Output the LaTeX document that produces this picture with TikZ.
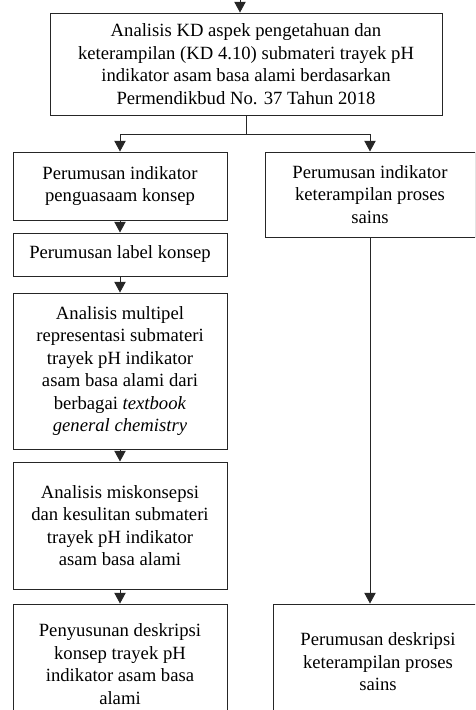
\documentclass[tikz,border=0pt]{standalone}
\usepackage{fontspec}
\setmainfont{Liberation Serif}
\usepackage{tikz}
\usetikzlibrary{arrows.meta, positioning, calc}
\definecolor{linec}{HTML}{262626}

\begin{document}
\begin{tikzpicture}[x=0.75pt, y=-0.75pt,
          >={Triangle[width=8.5pt, length=8pt]}, line width=0.7pt,
          box/.style={draw=linec, fill=white, inner sep=0pt, align=center,
            font=\fontsize{14}{16.9}\selectfont},
          conn/.style={->, draw=linec}]
        \clip (0,0) rectangle (475,710);
        % top box
        \node[box, minimum width=294pt, minimum height=76.5pt] (kd) at (246,64)
          {Analisis KD aspek pengetahuan dan\\
           keterampilan (KD 4.10) submateri trayek pH\\
           indikator asam basa alami berdasarkan\\
           Permendikbud No. 37 Tahun 2018};
        \coordinate (in) at (240,0);
        \draw[conn] (in) -- (in |- kd.north);
        % left column
        \node[box, minimum width=160.5pt, minimum height=51pt] (indk) at (120,186)
          {Perumusan indikator\\ penguasaam konsep};
        \node[box, minimum width=160.5pt, minimum height=32.3pt] (label) at (120,254.5)
          {Perumusan label konsep};
        \node[box, minimum width=160.5pt, minimum height=117pt] (multi) at (120,371)
          {Analisis multipel\\ representasi submateri\\ trayek pH indikator\\
           asam basa alami dari\\ berbagai \textit{textbook}\\
           \textit{general chemistry}};
        \node[box, minimum width=160.5pt, minimum height=95.3pt] (mis) at (120,525.5)
          {Analisis miskonsepsi\\ dan kesulitan submateri\\ trayek pH indikator\\
           asam basa alami};
        \node[box, minimum width=160.5pt, minimum height=90pt] (desk) at (120,664)
          {Penyusunan deskripsi\\ konsep trayek pH\\ indikator asam basa\\ alami};
        % right column
        \node[box, minimum width=157.5pt, minimum height=63.8pt] (indkps) at (370,194.5)
          {Perumusan indikator\\ keterampilan proses\\ sains};
        \node[box, minimum width=157.5pt, minimum height=87pt] (deskps) at (378,662)
          {Perumusan deskripsi\\ keterampilan proses\\ sains};
        % connectors
        \draw[conn] (kd.south) -- ++(0,19) -| (indk.north);
        \draw[conn] (kd.south) -- ++(0,19) -| (indkps.north);
        \foreach \a/\b in {indk/label, label/multi, multi/mis, mis/desk}
          \draw[conn] (\a) -- (\b);
        \draw[conn] (indkps) -- (indkps.south |- deskps.north);
      \end{tikzpicture}
\end{document}
